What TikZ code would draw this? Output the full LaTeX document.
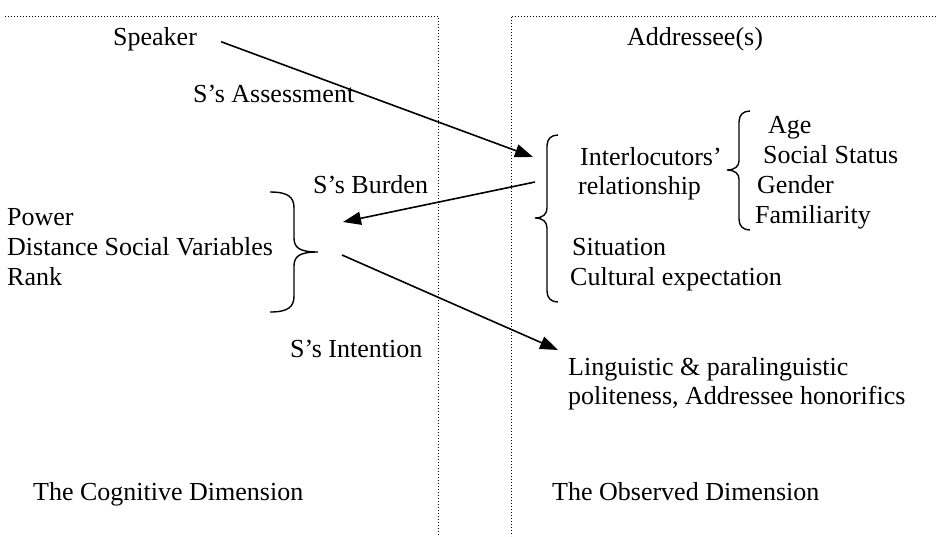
\documentclass[tikz,border=0pt]{standalone}
\usepackage{fontspec}
\setmainfont{Liberation Serif}
\usetikzlibrary{arrows.meta}

\tikzset{
  lbl/.style={anchor=base west, inner sep=0pt, font=\fontsize{26}{30}\selectfont},
  conn/.style={line width=1.6pt, -{Triangle[length=18pt,width=13pt]}},
  sep/.style={line width=1pt, dash pattern=on 1pt off 2pt},
  brc/.style={line width=1.4pt},
}

\begin{document}
\begin{tikzpicture}[x=1pt,y=-1pt]
        \useasboundingbox (0,0) rectangle (936,536);
        % dotted frame of the two dimensions
        \draw[sep] (5,16) -- (438,16) -- (438,536);
        \draw[sep] (936,16) -- (511,16) -- (511,536);

        % cognitive dimension
        \node[lbl] (speaker) at (113,45) {Speaker};
        \node[lbl] (assess) at (193,102) {S’s Assessment};
        \node[lbl] (burden) at (313,193) {S’s Burden};
        \node[lbl] (power) at (7,225) {Power};
        \node[lbl] (distance) at (7,255) {Distance Social Variables};
        \node[lbl] (rank) at (7,285) {Rank};
        \node[lbl] (intent) at (290,357) {S’s Intention};
        \node[lbl] (cognitive) at (33,500) {The Cognitive Dimension};

        % observed dimension
        \node[lbl] (addressee) at (627,45) {Addressee(s)};
        \node[lbl] (inter) at (580,165) {Interlocutors’};
        \node[lbl] (rel) at (578,194) {relationship};
        \node[lbl] (age) at (768,133) {Age};
        \node[lbl] (status) at (763,163) {Social Status};
        \node[lbl] (gender) at (757,193) {Gender};
        \node[lbl] (famil) at (755,223) {Familiarity};
        \node[lbl] (situation) at (572,255) {Situation};
        \node[lbl] (culture) at (570,285) {Cultural expectation};
        \node[lbl] (ling) at (568,375) {Linguistic \& paralinguistic};
        \node[lbl] (polite) at (568,404) {politeness, Addressee honorifics};
        \node[lbl] (observed) at (552,500) {The Observed Dimension};

        % braces
        \coordinate (vartip) at (318,252);
        \coordinate (addrtip) at (535,218);
        \coordinate (reltip) at (727,170);
        \draw[brc] (270,192) .. controls (288,192) and (294,197) .. (294,208) -- (294,238)
                .. controls (294,248) and (300,252) .. (vartip)
                .. controls (300,252) and (294,256) .. (294,266) -- (294,296)
                .. controls (294,307) and (288,312) .. (270,312);
        \draw[brc] (558,135) .. controls (551,135) and (547,139) .. (547,146) -- (547,208)
                .. controls (547,214) and (543,218) .. (addrtip)
                .. controls (543,218) and (547,222) .. (547,228) -- (547,291)
                .. controls (547,298) and (551,302) .. (558,302);
        \draw[brc] (750,111) .. controls (743,111) and (739,115) .. (739,122) -- (739,161)
                .. controls (739,166) and (735,170) .. (reltip)
                .. controls (735,170) and (739,174) .. (739,179) -- (739,219)
                .. controls (739,226) and (743,230) .. (750,230);

        % arrows
        \coordinate (asmtend) at (533,157);
        \coordinate (burdenstart) at (535,182);
        \coordinate (intentend) at (558,350);
        \draw[conn] ([shift={(24,3)}]speaker.east) -- (asmtend);
        \draw[conn] (burdenstart) -- ([shift={(25,-30)}]vartip);
        \draw[conn] ([shift={(24,3)}]vartip) -- (intentend);
\end{tikzpicture}
\end{document}
